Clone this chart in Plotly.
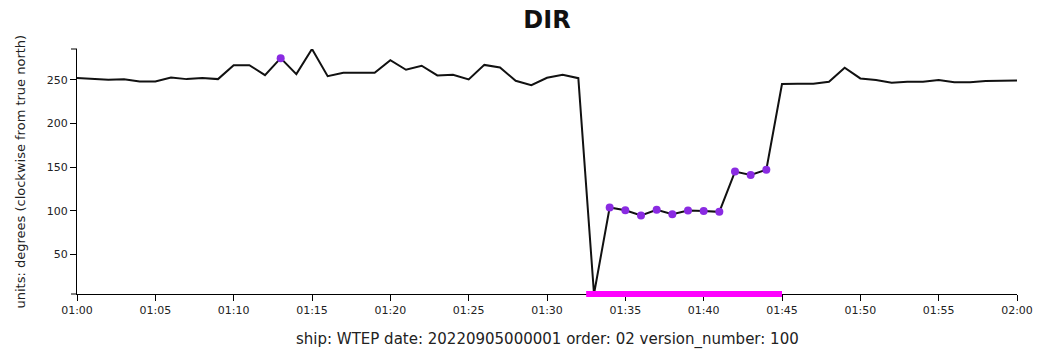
import pandas as pd
import plotly.graph_objects as go

# One reading per minute, 01:00 to 02:00
day = "2022-09-05"
times = pd.date_range(f"{day} 01:00", f"{day} 02:00", freq="1min")

# Wind direction (degrees clockwise from true north)
dir_values = [
    252.0, 250.7, 250.0, 250.5, 248.0, 248.0, 252.6, 250.7, 252.0, 250.7,
    266.7, 266.7, 255.3, 274.7, 256.4, 285.2, 254.1, 258.0, 258.0, 258.0,
    272.4, 261.4, 266.0, 254.9, 255.7, 250.3, 267.0, 264.0, 248.8, 243.8,
    252.3, 255.7, 251.8, 4.6, 103.7, 100.6, 94.5, 101.0, 96.0, 100.2,
    99.8, 98.7, 144.8, 141.0, 147.0, 245.0, 245.4, 245.4, 247.7, 263.7,
    251.5, 249.6, 246.6, 247.7, 247.7, 249.6, 247.0, 247.0, 248.5, 248.9,
    249.2,
]

# Minutes whose readings carry a quality flag
flagged_minutes = ["01:13", "01:34", "01:35", "01:36", "01:37", "01:38",
                   "01:39", "01:40", "01:41", "01:42", "01:43", "01:44"]

# Flagged time span marked along the time axis
flag_span = ["01:32:30", "01:45:00"]

tick_values = [50, 100, 150, 200, 250]

series = pd.Series(dir_values, index=times)
flag_times = pd.to_datetime([f"{day} {m}" for m in flagged_minutes])
flag_vals = series.loc[flag_times]
span_times = pd.to_datetime([f"{day} {t}" for t in flag_span])

y_lo, y_hi = min(dir_values), max(dir_values)

fig = go.Figure()
fig.add_trace(go.Scatter(
    x=series.index, y=series.values, mode="lines",
    line=dict(color="#111111", width=2), cliponaxis=False,
    hoverinfo="skip", showlegend=False,
))
fig.add_trace(go.Scatter(
    x=flag_vals.index, y=flag_vals.values, mode="markers",
    marker=dict(color="#8A2BE2", size=8, line=dict(width=0)),
    cliponaxis=False, showlegend=False,
))

L, R, T, B = 77, 27, 49, 57
plot_w = 1044 - L - R
plot_h = 351 - T - B
tick_px = 6

axis_common = dict(
    showgrid=False, zeroline=False, showline=True, linecolor="black",
    linewidth=1, ticks="outside", ticklen=tick_px, tickcolor="black",
    tickwidth=1, tickfont=dict(family="DejaVu Sans", size=11, color="#222222"),
)

fig.update_layout(
    width=1044, height=351,
    margin=dict(l=L, r=R, t=T, b=B, pad=0),
    paper_bgcolor="white", plot_bgcolor="white",
    font=dict(family="DejaVu Sans", color="#222222"),
    title=dict(
        text="<b>DIR</b>", font=dict(family="DejaVu Sans", size=24, color="#111111"),
        x=(L + plot_w / 2) / 1044, xref="container", xanchor="center",
        y=1 - 20 / 351, yref="container", yanchor="middle",
    ),
    xaxis=dict(
        range=[times[0], times[-1]], type="date",
        tickformat="%H:%M", dtick=5 * 60 * 1000,
        **axis_common,
    ),
    yaxis=dict(
        range=[y_lo, y_hi], tickvals=tick_values,
        **axis_common,
    ),
    annotations=[
        dict(
            text="ship: WTEP date: 20220905000001 order: 02 version_number: 100",
            xref="paper", yref="paper", x=0.5, y=-(339 - (351 - B)) / plot_h,
            xanchor="center", yanchor="middle", showarrow=False,
            font=dict(family="DejaVu Sans", size=15, color="#222222"),
        ),
        dict(
            text="units: degrees (clockwise from true north)",
            xref="paper", yref="paper", x=(20 - L) / plot_w, y=0.5,
            xanchor="center", yanchor="middle", textangle=-90, showarrow=False,
            font=dict(family="DejaVu Sans", size=13, color="#222222"),
        ),
    ],
    shapes=[
        # outer ticks at both ends of the value axis
        dict(type="line", xref="paper", yref="paper", x0=-tick_px / plot_w, x1=0,
             y0=1, y1=1, line=dict(color="black", width=1)),
        dict(type="line", xref="paper", yref="paper", x0=-tick_px / plot_w, x1=0,
             y0=0, y1=0, line=dict(color="black", width=1)),
        # flagged time span along the time axis
        dict(type="line", xref="x", yref="paper", layer="above",
             x0=span_times[0], x1=span_times[1], y0=0, y1=0,
             line=dict(color="#FF00FF", width=6)),
    ],
)

fig.write_html("out.html")
